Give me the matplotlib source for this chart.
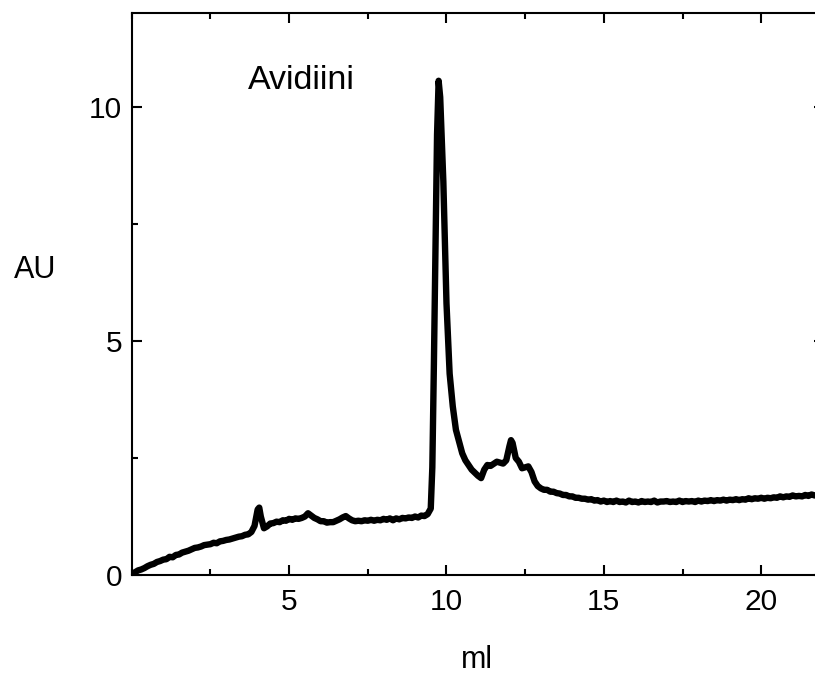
import numpy as np
from matplotlib import pyplot as plt
from matplotlib.ticker import MultipleLocator

plt.rcParams['font.family'] = ['Liberation Sans', 'DejaVu Sans']

# chromatogram, in pieces
# 0 - 3.8 ml, every 0.1 ml
x_a = np.round(np.arange(0.0, 3.85, 0.1), 2)
y_a = [0.02, 0.06, 0.10, 0.12, 0.15, 0.19, 0.22, 0.24, 0.28, 0.30,
       0.33, 0.34, 0.39, 0.38, 0.43, 0.44, 0.48, 0.50, 0.52, 0.55,
       0.58, 0.59, 0.61, 0.64, 0.65, 0.66, 0.69, 0.68, 0.72, 0.73,
       0.75, 0.76, 0.78, 0.80, 0.82, 0.83, 0.86, 0.87, 0.92]

# small peak near 4 ml
x_b = [3.9, 4.0, 4.05, 4.1, 4.2, 4.3]
y_b = [1.05, 1.40, 1.44, 1.25, 1.00, 1.04]

# plateau 4.4 - 9.4 ml
x_c = np.round(np.arange(4.4, 9.45, 0.1), 2)
y_c = [1.10, 1.11, 1.14, 1.13, 1.17, 1.16, 1.20, 1.18, 1.21, 1.20,
       1.22, 1.25, 1.32, 1.27, 1.22, 1.19, 1.15, 1.15, 1.12, 1.13,
       1.13, 1.16, 1.19, 1.23, 1.26, 1.21, 1.17, 1.15, 1.16, 1.15,
       1.17, 1.16, 1.18, 1.16, 1.18, 1.17, 1.20, 1.18, 1.21, 1.17,
       1.21, 1.19, 1.22, 1.21, 1.23, 1.22, 1.25, 1.23, 1.27, 1.26,
       1.30]

# main peak and the shoulders after it
x_d = [9.5, 9.55, 9.6, 9.65, 9.7, 9.75, 9.8, 9.85, 9.9, 9.95,
       10.0, 10.1, 10.2, 10.3, 10.4, 10.5, 10.6, 10.8, 11.0, 11.1,
       11.2, 11.3, 11.4, 11.6, 11.8, 11.9, 12.0, 12.05, 12.1, 12.2,
       12.3, 12.4, 12.5, 12.6, 12.7, 12.8, 12.9]
y_d = [1.42, 2.3, 4.5, 7.0, 9.4, 10.55, 10.2, 9.3, 8.4, 7.1,
       5.8, 4.3, 3.6, 3.1, 2.85, 2.6, 2.45, 2.25, 2.12, 2.07,
       2.25, 2.35, 2.33, 2.42, 2.38, 2.45, 2.75, 2.88, 2.82, 2.50,
       2.42, 2.28, 2.30, 2.32, 2.20, 2.00, 1.90]

# tail 13 - 21.8 ml
x_e = np.round(np.arange(13.0, 21.85, 0.1), 2)
y_e = [1.85, 1.82, 1.82, 1.78, 1.78, 1.75, 1.74, 1.71, 1.71, 1.68,
       1.68, 1.65, 1.65, 1.63, 1.63, 1.61, 1.62, 1.59, 1.60, 1.57,
       1.59, 1.56, 1.58, 1.56, 1.59, 1.56, 1.57, 1.55, 1.59, 1.56,
       1.57, 1.55, 1.58, 1.56, 1.57, 1.56, 1.59, 1.55, 1.57, 1.57,
       1.58, 1.56, 1.57, 1.56, 1.59, 1.56, 1.58, 1.57, 1.58, 1.56,
       1.59, 1.57, 1.59, 1.58, 1.60, 1.58, 1.60, 1.59, 1.61, 1.59,
       1.61, 1.60, 1.62, 1.60, 1.62, 1.61, 1.64, 1.62, 1.64, 1.63,
       1.65, 1.63, 1.65, 1.64, 1.66, 1.65, 1.68, 1.66, 1.68, 1.67,
       1.70, 1.68, 1.69, 1.68, 1.71, 1.69, 1.72, 1.70, 1.70]

ml = np.concatenate([x_a, x_b, x_c, x_d, x_e])
au = np.concatenate([y_a, y_b, y_c, y_d, y_e])

fig = plt.figure(figsize=(8.15, 6.75), dpi=100)
# axes runs a little past the right edge, like the original
ax = fig.add_axes([0.1617, 0.148, 0.8495, 0.833])

ax.plot(ml, au, color="black", lw=4.6, solid_joinstyle="round")

ax.set_xlim(0, 22)
ax.set_ylim(0, 12)
ax.xaxis.set_minor_locator(MultipleLocator(2.5))
ax.yaxis.set_minor_locator(MultipleLocator(2.5))
ax.set_xticks([5, 10, 15, 20])
ax.set_yticks([0, 5, 10])

ax.tick_params(which="both", direction="in", top=True, right=True, width=1.5)
ax.tick_params(which="major", length=7.5, labelsize=21.5)
ax.tick_params(which="minor", length=4)
ax.tick_params(axis="x", pad=9)
ax.tick_params(axis="y", pad=7)
for s in ax.spines.values():
    s.set_linewidth(1.5)

ax.text(3.7, 10.38, "Avidiini", fontsize=24.5, ha="left", va="baseline")
fig.text(35 / 815, 1 - 270 / 675, "AU", fontsize=22, ha="center", va="center")
fig.text(477 / 815, 1 - 660 / 675, "ml", fontsize=22, ha="center", va="center")

plt.savefig("out.png", dpi=100)
